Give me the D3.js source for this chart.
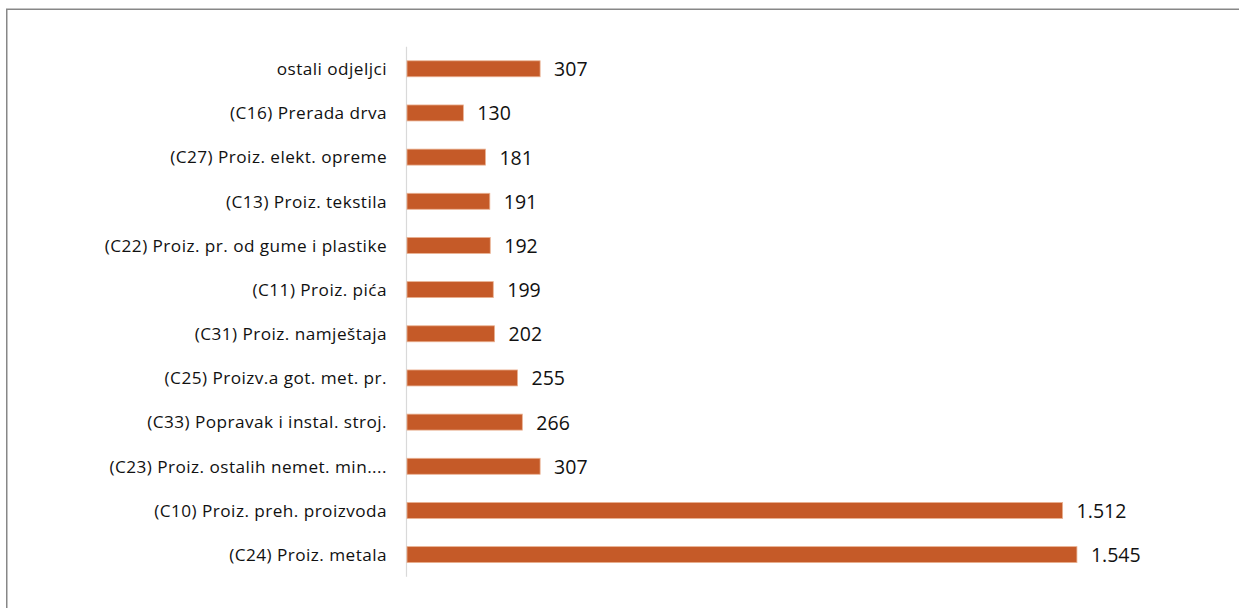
<!DOCTYPE html>
<html>
<head>
<meta charset="utf-8">
<script src="https://cdn.jsdelivr.net/npm/d3@7"></script>
<style>
  html, body { margin: 0; padding: 0; background: #fff; }
  svg { display: block; }
</style>
</head>
<body>
<svg id="chart" width="1239" height="608"></svg>
<script>
// Categories top to bottom
const categories = [
  "ostali odjeljci",
  "(C16) Prerada drva",
  "(C27) Proiz. elekt. opreme",
  "(C13) Proiz. tekstila",
  "(C22) Proiz. pr. od gume i plastike",
  "(C11) Proiz. pića",
  "(C31) Proiz. namještaja",
  "(C25) Proizv.a got. met. pr.",
  "(C33) Popravak i instal. stroj.",
  "(C23) Proiz. ostalih nemet. min....",
  "(C10) Proiz. preh. proizvoda",
  "(C24) Proiz. metala"
];
const values = [307, 130, 181, 191, 192, 199, 202, 255, 266, 307, 1512, 1545];
const valueLabels = ["307", "130", "181", "191", "192", "199", "202", "255", "266", "307", "1.512", "1.545"];
const xDomain = [0, 1800];

const svg = d3.select("#chart");

// outer chart border (extends past right/bottom edges)
svg.append("rect")
  .attr("x", 6.75).attr("y", 9.25)
  .attr("width", 1300).attr("height", 700)
  .attr("fill", "none")
  .attr("stroke", "#878787")
  .attr("stroke-width", 1.5);

const x = d3.scaleLinear().domain(xDomain).range([407, 1187.5]);
const y = d3.scaleBand().domain(categories).range([46.7, 576.7])
  .paddingInner(0.638).paddingOuter(0.319);

// vertical category axis line
svg.append("line")
  .attr("x1", 406.5).attr("x2", 406.5)
  .attr("y1", y.range()[0]).attr("y2", y.range()[1])
  .attr("stroke", "#d9d9d9").attr("stroke-width", 1.2);

const data = categories.map((c, i) => ({ c, v: values[i], l: valueLabels[i] }));

svg.append("g").selectAll("rect").data(data).join("rect")
  .attr("x", x(0))
  .attr("y", d => y(d.c))
  .attr("width", d => x(d.v) - x(0))
  .attr("height", y.bandwidth())
  .attr("fill", "#c55a28")
  .attr("stroke", "#eab293")
  .attr("stroke-width", 0.8);

// category labels
svg.append("g").selectAll("text").data(data).join("text")
  .attr("x", 387)
  .attr("y", d => y(d.c) + y.bandwidth() / 2 + 6.3)
  .attr("text-anchor", "end")
  .attr("font-family", "'Open Sans', sans-serif")
  .attr("font-size", 17.2)
  .attr("letter-spacing", "0.45px")
  .attr("fill", "#111")
  .text(d => d.c);

// value labels
svg.append("g").selectAll("text").data(data).join("text")
  .attr("x", d => x(d.v) + 14)
  .attr("y", d => y(d.c) + y.bandwidth() / 2 + 7.4)
  .attr("font-family", "'Open Sans', sans-serif")
  .attr("font-size", 19.5)
  .attr("fill", "#111")
  .text(d => d.l);
</script>
</body>
</html>
